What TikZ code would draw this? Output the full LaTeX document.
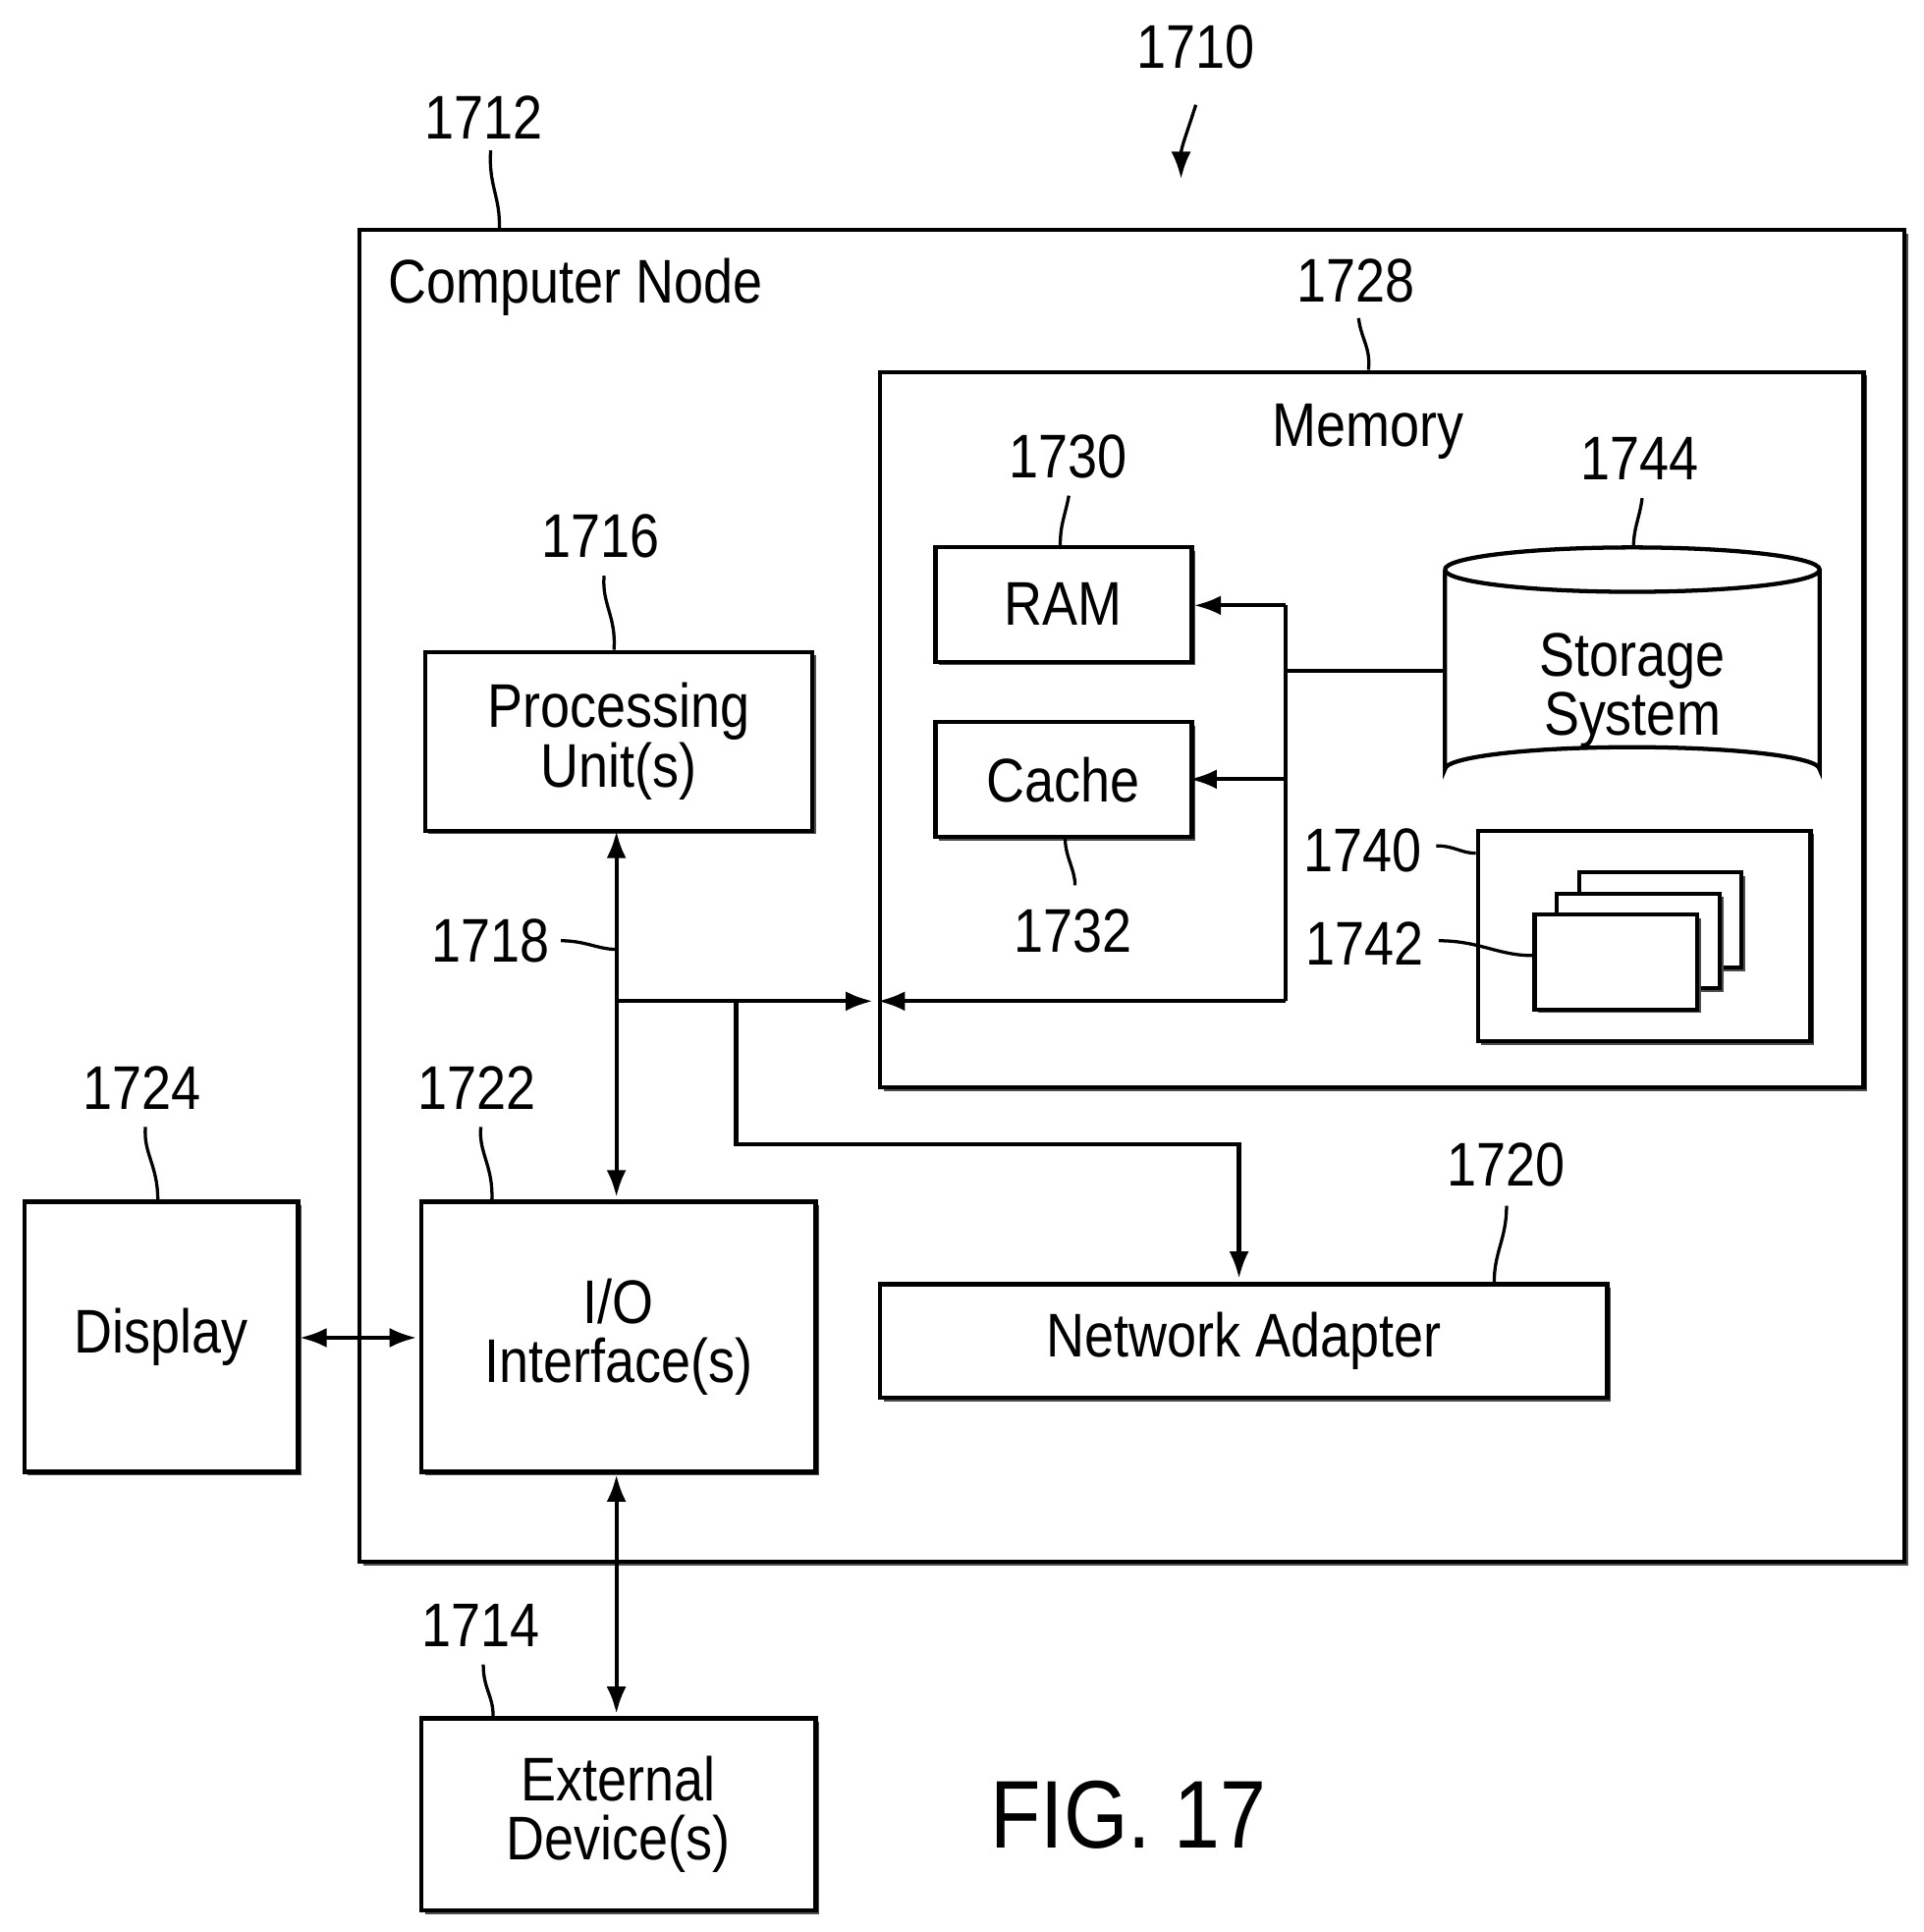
\documentclass[tikz,border=0pt]{standalone}
\usepackage{fontspec}
\setmainfont{Liberation Sans}[FakeStretch=0.86]
\usetikzlibrary{shapes.geometric,arrows.meta,shadows}
\tikzset{every picture/.style={line width=3.4pt}}
\tikzset{
  blk/.style={draw,rectangle,fill=white,inner sep=0pt,anchor=north west,
    drop shadow={shadow xshift=3pt,shadow yshift=-3pt,fill=black!70,opacity=1}},
  txt/.style={align=center,font=\fontsize{50}{56}\selectfont},
  num/.style={font=\fontsize{50}{56}\selectfont},
  lead/.style={line width=2.6pt},
  arr/.style={-{Latex[length=22pt,width=16pt]}},
  darr/.style={{Latex[length=22pt,width=16pt]}-{Latex[length=22pt,width=16pt]}}
}
\begin{document}
\begin{tikzpicture}[x=1pt,y=1pt,yscale=-1,xscale=1]
\useasboundingbox (0,0) rectangle (1560,1567);

% Computer node
\node (cnode) [blk,minimum width=1253pt,minimum height=1080pt] at (290,185) {};
\node (cnodelbl) [txt] at (467,233) {Computer Node};
\node (n1712) [num] at (392,95) {1712};
\draw [lead] (398,122) .. controls (396,150) and (406,160) .. (405,185);
\node (n1710) [num] at (970,38) {1710};
\draw [lead,arr] (970,85) .. controls (962,110) and (958,120) .. (958,145);

% Memory
\node (mem) [blk,minimum width=798pt,minimum height=580pt] at (712,300) {};
\node (memlbl) [txt] at (1110,350) {Memory};
\node (n1728) [num] at (1100,228) {1728};
\draw [lead] (1102,258) .. controls (1104,275) and (1112,282) .. (1110,300);

% RAM and cache
\node (ram) [blk,minimum width=208pt,minimum height=93pt] at (757,442) {};
\node [txt] at (ram.center) {RAM};
\node (n1730) [num] at (866,370) {1730};
\draw [lead] (867,402) .. controls (864,418) and (860,425) .. (860,442);
\node (cache) [blk,minimum width=208pt,minimum height=93pt] at (757,584) {};
\node [txt] at (cache.center) {Cache};
\node (n1732) [num] at (870,755) {1732};
\draw [lead] (864,680) .. controls (864,695) and (872,705) .. (872,718);

% Storage system
\coordinate (stor) at (1172,544);
\draw [fill=white] (1172,462) -- (1172,624) arc[start angle=180,end angle=360,x radius=152pt,y radius=18pt]
  -- (1476,462) arc[start angle=0,end angle=-180,x radius=152pt,y radius=18pt];
\draw (1172,462) arc[start angle=180,end angle=0,x radius=152pt,y radius=18pt];
\node [txt] at (1324,560) {Storage\\[-8pt]System};
\node (n1744) [num] at (1330,372) {1744};
\draw [lead] (1332,404) .. controls (1330,420) and (1325,428) .. (1325,444);

% Programs
\node (prog) [blk,minimum width=270pt,minimum height=171pt] at (1197,672) {};
\node (cardc) [blk,minimum width=132pt,minimum height=77pt] at (1279,706) {};
\node (cardb) [blk,minimum width=132pt,minimum height=77pt] at (1261,723) {};
\node (carda) [blk,minimum width=132pt,minimum height=77pt] at (1243,740) {};
\node (n1740) [num] at (1105,690) {1740};
\draw [lead] (1165,686) .. controls (1180,686) and (1185,692) .. (1197,692);
\node (n1742) [num] at (1107,765) {1742};
\draw [lead] (1167,763) .. controls (1200,763) and (1215,775) .. (1243,775);

% Memory bus
\coordinate (mbt) at (1043,491);
\coordinate (mbb) at (1043,812);
\draw (mbt) -- (mbb);
\draw [arr] (mbb) -- (712,812);
\draw [arr] (mbt) -- (ram.east |- mbt);
\draw [arr] (1043,632) -- (965,632);
\draw (1043,544) -- (stor);

% Processing unit and I/O
\node (cpu) [blk,minimum width=314pt,minimum height=145pt] at (343,527) {};
\node [txt] at (cpu.center) {Processing\\[-8pt]Unit(s)};
\node (n1716) [num] at (487,435) {1716};
\draw [lead] (490,467) .. controls (488,490) and (500,500) .. (498,527);
\node (io) [blk,minimum width=320pt,minimum height=219pt] at (340,973) {};
\node [txt] at (io.center) {I/O\\[-8pt]Interface(s)};
\node (n1722) [num] at (387,882) {1722};
\draw [lead] (390,914) .. controls (388,935) and (400,945) .. (399,973);

% System bus
\coordinate (bj) at (500,812);
\coordinate (bk) at (597,812);
\draw [darr] (500,674) -- (500,971);
\draw [arr] (bj) -- (708,812);
\draw [arr] (bk) -- (597,928) -- (1005,928) -- (1005,1037);
\node (n1718) [num] at (398,763) {1718};
\draw [lead] (455,763) .. controls (475,763) and (485,770) .. (500,770);

% Network adapter
\node (net) [blk,minimum width=590pt,minimum height=92pt] at (712,1040) {};
\node [txt] at (net.center) {Network Adapter};
\node (n1720) [num] at (1222,945) {1720};
\draw [lead] (1222,978) .. controls (1222,1005) and (1212,1015) .. (1212,1040);

% Display
\node (disp) [blk,minimum width=222pt,minimum height=219pt] at (18,973) {};
\node [txt] at (disp.center) {Display};
\node (n1724) [num] at (115,882) {1724};
\draw [lead] (118,914) .. controls (116,935) and (128,945) .. (128,973);
\draw [darr] (243,1085) -- (338,1085);

% External devices
\node (ext) [blk,minimum width=320pt,minimum height=156pt] at (340,1392) {};
\node [txt] at (ext.center) {External\\[-8pt]Device(s)};
\node (n1714) [num] at (390,1318) {1714};
\draw [lead] (392,1350) .. controls (392,1370) and (400,1375) .. (400,1392);
\draw [darr] (500,1196) -- (500,1390);

\node (fig) [font=\fontsize{78}{84}\selectfont] at (915,1472) {FIG. 17};
\end{tikzpicture}
\end{document}
